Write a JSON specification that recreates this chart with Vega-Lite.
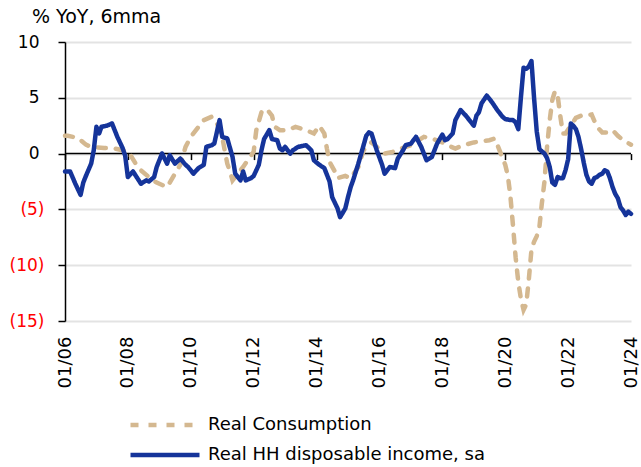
{
"$schema": "https://vega.github.io/schema/vega-lite/v6.json",
"width": 566, "height": 279,
"autosize": {"type": "none"},
"padding": {"left": 65, "top": 42, "right": 10, "bottom": 146},
"background": "white",
"title": {"text": "% YoY, 6mma", "anchor": "start", "frame": "group", "dx": -33, "dy": 24, "offset": 15, "baseline": "alphabetic", "fontSize": 19, "fontWeight": "normal", "font": "DejaVu Sans", "color": "#000000"},
"config": {"view": {"stroke": null}, "font": "DejaVu Sans"},
"datasets": {
"zero": [{"d": "2006/01/01", "v": 0}, {"d": "2024/01/01", "v": 0}],
"cons": [
{"d":"2006/01/01","v":1.6},{"d":"2006/02/01","v":1.6},{"d":"2006/06/01","v":1.4},{"d":"2006/09/01","v":0.8},{"d":"2006/11/01","v":0.6},
{"d":"2007/04/01","v":0.5},{"d":"2007/08/01","v":0.45},{"d":"2008/01/01","v":0.2},{"d":"2008/02/01","v":-0.15},{"d":"2008/04/01","v":-0.9},
{"d":"2008/06/01","v":-1.5},{"d":"2008/10/01","v":-2.3},{"d":"2008/12/01","v":-2.6},{"d":"2009/04/01","v":-3.0},{"d":"2009/06/01","v":-2.2},
{"d":"2009/09/01","v":-1.0},{"d":"2009/11/01","v":0.6},{"d":"2010/01/01","v":1.5},{"d":"2010/04/01","v":2.4},{"d":"2010/06/01","v":3.0},
{"d":"2010/09/01","v":3.3},{"d":"2010/11/01","v":2.7},{"d":"2011/01/01","v":1.5},{"d":"2011/02/01","v":0.2},{"d":"2011/03/01","v":-0.9},
{"d":"2011/04/01","v":-1.6},{"d":"2011/05/01","v":-2.4},{"d":"2011/07/01","v":-1.8},{"d":"2011/09/01","v":-1.2},{"d":"2011/11/01","v":-0.5},
{"d":"2012/01/01","v":0.15},{"d":"2012/02/01","v":2.1},{"d":"2012/04/01","v":3.7},{"d":"2012/06/01","v":4.0},{"d":"2012/08/01","v":3.4},
{"d":"2012/09/01","v":2.4},{"d":"2012/11/01","v":2.1},{"d":"2013/02/01","v":2.1},{"d":"2013/05/01","v":2.4},{"d":"2013/09/01","v":2.1},
{"d":"2013/12/01","v":1.8},{"d":"2014/02/01","v":2.5},{"d":"2014/04/01","v":1.8},{"d":"2014/05/01","v":0.45},{"d":"2014/06/01","v":-0.75},
{"d":"2014/08/01","v":-1.6},{"d":"2014/09/01","v":-2.2},{"d":"2014/12/01","v":-2.0},{"d":"2015/02/01","v":-2.2},{"d":"2015/05/01","v":-1.2},
{"d":"2015/07/01","v":0.3},{"d":"2015/10/01","v":1.0},{"d":"2016/01/01","v":0.4},{"d":"2016/03/01","v":0.0},{"d":"2016/06/01","v":0.15},
{"d":"2016/09/01","v":0.45},{"d":"2017/01/01","v":0.75},{"d":"2017/04/01","v":1.2},{"d":"2017/06/01","v":1.5},{"d":"2017/09/01","v":1.35},
{"d":"2018/01/01","v":1.0},{"d":"2018/03/01","v":0.75},{"d":"2018/06/01","v":0.45},{"d":"2018/09/01","v":0.75},{"d":"2019/01/01","v":1.0},
{"d":"2019/04/01","v":1.1},{"d":"2019/07/01","v":1.2},{"d":"2019/09/01","v":1.35},{"d":"2019/10/01","v":0.8},{"d":"2019/11/01","v":0.2},
{"d":"2019/12/01","v":-0.4},{"d":"2020/01/01","v":-1.0},{"d":"2020/02/01","v":-2.0},{"d":"2020/03/01","v":-3.8},{"d":"2020/04/01","v":-6.5},
{"d":"2020/05/01","v":-9.3},{"d":"2020/06/01","v":-11.5},{"d":"2020/07/01","v":-13.0},{"d":"2020/08/01","v":-14.0},{"d":"2020/09/01","v":-13.5},
{"d":"2020/10/01","v":-11.3},{"d":"2020/11/01","v":-8.6},{"d":"2020/12/01","v":-7.9},{"d":"2021/01/01","v":-7.4},{"d":"2021/02/01","v":-6.6},
{"d":"2021/03/01","v":-4.5},{"d":"2021/04/01","v":-2.5},{"d":"2021/05/01","v":0.6},{"d":"2021/06/01","v":3.0},{"d":"2021/07/01","v":4.8},
{"d":"2021/08/01","v":5.6},{"d":"2021/09/01","v":5.2},{"d":"2021/10/01","v":3.4},{"d":"2021/11/01","v":1.8},{"d":"2021/12/01","v":1.8},
{"d":"2022/02/01","v":2.5},{"d":"2022/04/01","v":3.2},{"d":"2022/06/01","v":3.4},{"d":"2022/08/01","v":3.4},{"d":"2022/10/01","v":3.5},
{"d":"2022/12/01","v":2.4},{"d":"2023/02/01","v":1.9},{"d":"2023/04/01","v":1.9},{"d":"2023/06/01","v":2.1},{"d":"2023/08/01","v":1.6},
{"d":"2023/10/01","v":1.2},{"d":"2024/01/01","v":0.8}
],
"inc": [
{"d":"2006/01/01","v":-1.6},{"d":"2006/03/01","v":-1.6},{"d":"2006/05/01","v":-2.7},{"d":"2006/07/01","v":-3.7},{"d":"2006/08/01","v":-2.6},
{"d":"2006/09/01","v":-2.0},{"d":"2006/11/01","v":-0.9},{"d":"2006/12/01","v":0.3},{"d":"2007/01/01","v":2.4},{"d":"2007/02/01","v":1.8},
{"d":"2007/03/01","v":2.4},{"d":"2007/05/01","v":2.5},{"d":"2007/07/01","v":2.7},{"d":"2007/09/01","v":1.5},{"d":"2007/11/01","v":0.5},
{"d":"2007/12/01","v":-0.2},{"d":"2008/01/01","v":-2.1},{"d":"2008/03/01","v":-1.6},{"d":"2008/06/01","v":-2.7},{"d":"2008/08/01","v":-2.4},
{"d":"2008/09/01","v":-2.5},{"d":"2008/11/01","v":-2.1},{"d":"2008/12/01","v":-1.2},{"d":"2009/02/01","v":0.0},{"d":"2009/04/01","v":-0.9},
{"d":"2009/05/01","v":-0.15},{"d":"2009/07/01","v":-0.9},{"d":"2009/09/01","v":-0.45},{"d":"2009/11/01","v":-1.0},{"d":"2009/12/01","v":-1.2},
{"d":"2010/02/01","v":-1.8},{"d":"2010/04/01","v":-1.3},{"d":"2010/06/01","v":-1.0},{"d":"2010/07/01","v":0.6},{"d":"2010/09/01","v":0.75},
{"d":"2010/10/01","v":0.9},{"d":"2010/12/01","v":3.0},{"d":"2011/01/01","v":1.5},{"d":"2011/03/01","v":1.35},{"d":"2011/05/01","v":-0.3},
{"d":"2011/06/01","v":-1.8},{"d":"2011/08/01","v":-2.4},{"d":"2011/09/01","v":-1.6},{"d":"2011/10/01","v":-2.4},{"d":"2011/12/01","v":-2.2},
{"d":"2012/01/01","v":-2.0},{"d":"2012/02/01","v":-1.5},{"d":"2012/03/01","v":-1.0},{"d":"2012/04/01","v":0.3},{"d":"2012/05/01","v":1.3},
{"d":"2012/07/01","v":2.1},{"d":"2012/08/01","v":1.3},{"d":"2012/10/01","v":1.2},{"d":"2012/11/01","v":0.45},{"d":"2012/12/01","v":0.3},
{"d":"2013/01/01","v":0.6},{"d":"2013/03/01","v":0.0},{"d":"2013/04/01","v":0.3},{"d":"2013/06/01","v":0.6},{"d":"2013/09/01","v":0.75},
{"d":"2013/11/01","v":0.3},{"d":"2013/12/01","v":-0.6},{"d":"2014/02/01","v":-1.0},{"d":"2014/04/01","v":-1.3},{"d":"2014/06/01","v":-2.5},
{"d":"2014/07/01","v":-3.9},{"d":"2014/09/01","v":-4.9},{"d":"2014/10/01","v":-5.7},{"d":"2014/11/01","v":-5.3},{"d":"2014/12/01","v":-4.9},
{"d":"2015/01/01","v":-3.9},{"d":"2015/02/01","v":-3.0},{"d":"2015/03/01","v":-2.4},{"d":"2015/05/01","v":-0.9},{"d":"2015/07/01","v":0.75},
{"d":"2015/08/01","v":1.6},{"d":"2015/09/01","v":1.9},{"d":"2015/10/01","v":1.8},{"d":"2015/12/01","v":0.3},{"d":"2016/02/01","v":-1.0},
{"d":"2016/03/01","v":-1.8},{"d":"2016/05/01","v":-1.2},{"d":"2016/07/01","v":-1.3},{"d":"2016/08/01","v":-0.45},{"d":"2016/10/01","v":0.3},
{"d":"2016/11/01","v":0.75},{"d":"2017/01/01","v":0.9},{"d":"2017/03/01","v":1.5},{"d":"2017/05/01","v":0.6},{"d":"2017/07/01","v":-0.6},
{"d":"2017/09/01","v":-0.3},{"d":"2017/11/01","v":0.9},{"d":"2018/01/01","v":1.7},{"d":"2018/02/01","v":1.2},{"d":"2018/03/01","v":1.3},
{"d":"2018/05/01","v":1.8},{"d":"2018/06/01","v":3.0},{"d":"2018/08/01","v":3.9},{"d":"2018/10/01","v":3.4},{"d":"2019/01/01","v":2.5},
{"d":"2019/02/01","v":3.4},{"d":"2019/03/01","v":3.7},{"d":"2019/04/01","v":4.5},{"d":"2019/06/01","v":5.2},{"d":"2019/08/01","v":4.6},
{"d":"2019/10/01","v":3.9},{"d":"2019/12/01","v":3.3},{"d":"2020/01/01","v":3.1},{"d":"2020/03/01","v":3.0},{"d":"2020/04/01","v":3.0},
{"d":"2020/05/01","v":2.8},{"d":"2020/06/01","v":2.2},{"d":"2020/07/01","v":5.0},{"d":"2020/08/01","v":7.7},{"d":"2020/09/01","v":7.6},
{"d":"2020/10/01","v":7.8},{"d":"2020/11/01","v":8.3},{"d":"2020/12/01","v":5.0},{"d":"2021/01/01","v":2.0},{"d":"2021/02/01","v":0.4},
{"d":"2021/03/01","v":0.2},{"d":"2021/04/01","v":0.0},{"d":"2021/05/01","v":-0.4},{"d":"2021/06/01","v":-1.2},{"d":"2021/07/01","v":-2.6},
{"d":"2021/08/01","v":-2.8},{"d":"2021/09/01","v":-2.1},{"d":"2021/10/01","v":-2.2},{"d":"2021/11/01","v":-2.2},{"d":"2021/12/01","v":-1.5},
{"d":"2022/01/01","v":-0.5},{"d":"2022/02/01","v":2.7},{"d":"2022/03/01","v":2.5},{"d":"2022/04/01","v":2.2},{"d":"2022/05/01","v":1.5},
{"d":"2022/06/01","v":0.4},{"d":"2022/07/01","v":-0.8},{"d":"2022/08/01","v":-1.9},{"d":"2022/09/01","v":-2.5},{"d":"2022/10/01","v":-2.7},
{"d":"2022/11/01","v":-2.2},{"d":"2022/12/01","v":-2.1},{"d":"2023/01/01","v":-1.9},{"d":"2023/02/01","v":-1.8},{"d":"2023/03/01","v":-1.5},
{"d":"2023/04/01","v":-1.6},{"d":"2023/05/01","v":-2.2},{"d":"2023/06/01","v":-3.0},{"d":"2023/07/01","v":-3.6},{"d":"2023/08/01","v":-4.0},
{"d":"2023/09/01","v":-4.8},{"d":"2023/10/01","v":-5.1},{"d":"2023/11/01","v":-5.5},{"d":"2023/12/01","v":-5.2},{"d":"2024/01/01","v":-5.4}
]
},
"layer": [
{
"data": {"name": "zero"},
"mark": {"type": "line", "color": "#000000", "strokeWidth": 1.5},
"encoding": {
"x": {"field": "d", "type": "temporal",
 "scale": {"domain": [{"year": 2006, "month": 1, "date": 1}, {"year": 2024, "month": 1, "date": 1}]},
 "axis": {"orient": "top", "offset": -111.6, "domain": false, "labels": false, "grid": false, "ticks": true, "tickSize": -6, "tickColor": "#000000", "tickWidth": 1.5, "title": null,
  "values": [{"year":2006,"month":1,"date":1},{"year":2008,"month":1,"date":1},{"year":2010,"month":1,"date":1},{"year":2012,"month":1,"date":1},{"year":2014,"month":1,"date":1},{"year":2016,"month":1,"date":1},{"year":2018,"month":1,"date":1},{"year":2020,"month":1,"date":1},{"year":2022,"month":1,"date":1},{"year":2024,"month":1,"date":1}]}},
"y": {"field": "v", "type": "quantitative",
 "scale": {"domain": [-15, 10], "nice": false, "zero": false},
 "axis": {"orient": "left", "values": [-15, -10, -5, 0, 5, 10], "title": null,
  "domain": true, "domainColor": "#000000", "domainWidth": 1.5,
  "ticks": true, "tickSize": 7, "tickColor": "#000000", "tickWidth": 1.5,
  "grid": true, "gridColor": "#e3e3e3", "gridWidth": 2,
  "labelExpr": "datum.value < 0 ? '(' + format(-datum.value, 'd') + ')' : format(datum.value, 'd')",
  "labelColor": {"condition": {"test": "datum.value < 0", "value": "#ff0000"}, "value": "#000000"},
  "labelPadding": {"condition": {"test": "datum.value < 0", "value": 14}, "value": 19},
  "labelFontSize": 17, "labelFont": "DejaVu Sans"}}
}
},
{
"data": {"name": "cons"},
"mark": {"type": "line", "strokeWidth": 4.5, "strokeCap": "round"},
"encoding": {
"x": {"field": "d", "type": "temporal",
 "axis": {"orient": "bottom", "format": "%m/%y", "labelAngle": -90, "domain": false, "ticks": false, "grid": false, "labelPadding": 15, "labelFontSize": 18, "labelFont": "DejaVu Sans", "labelColor": "#000000", "title": null,
  "values": [{"year":2006,"month":1,"date":1},{"year":2008,"month":1,"date":1},{"year":2010,"month":1,"date":1},{"year":2012,"month":1,"date":1},{"year":2014,"month":1,"date":1},{"year":2016,"month":1,"date":1},{"year":2018,"month":1,"date":1},{"year":2020,"month":1,"date":1},{"year":2022,"month":1,"date":1},{"year":2024,"month":1,"date":1}]}},
"y": {"field": "v", "type": "quantitative"},
"color": {"datum": "Real Consumption", "type": "nominal",
 "scale": {"domain": ["Real Consumption", "Real HH disposable income, sa"], "range": ["#d4b890", "#15349a"]},
 "legend": {"title": null, "orient": "none", "legendX": 63, "legendY": 368, "direction": "vertical", "symbolType": "stroke", "symbolSize": 4761, "symbolStrokeWidth": 4.5, "labelFontSize": 18, "labelFont": "DejaVu Sans", "labelColor": "#000000", "labelOffset": 6, "labelLimit": 500, "clipHeight": 30, "rowPadding": 0, "padding": 0}},
"strokeDash": {"datum": "Real Consumption", "type": "nominal",
 "scale": {"domain": ["Real Consumption", "Real HH disposable income, sa"], "range": [[8, 10], [1, 0]]},
 "legend": {"title": null, "orient": "none", "legendX": 63, "legendY": 368, "direction": "vertical", "symbolType": "stroke", "symbolSize": 4761, "symbolStrokeWidth": 4.5, "labelFontSize": 18, "labelFont": "DejaVu Sans", "labelColor": "#000000", "labelOffset": 6, "labelLimit": 500, "clipHeight": 30, "rowPadding": 0, "padding": 0}}
}
},
{
"data": {"name": "inc"},
"mark": {"type": "line", "strokeWidth": 4.5, "strokeCap": "round", "strokeJoin": "round"},
"encoding": {
"x": {"field": "d", "type": "temporal", "axis": null},
"y": {"field": "v", "type": "quantitative"},
"color": {"datum": "Real HH disposable income, sa", "type": "nominal"},
"strokeDash": {"datum": "Real HH disposable income, sa", "type": "nominal"}
}
}
],
"resolve": {"axis": {"x": "independent"}}
}
